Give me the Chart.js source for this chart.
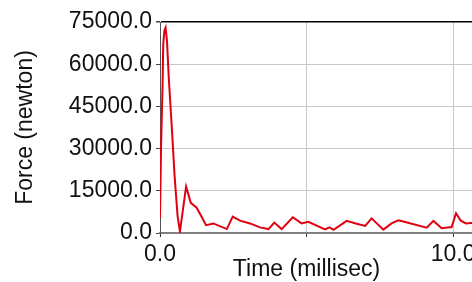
<!DOCTYPE html>
<html>
<head>
<meta charset="utf-8">
<script src="https://cdn.jsdelivr.net/npm/chart.js@4"></script>
<style>
  html, body { margin: 0; padding: 0; background: #fff; overflow: hidden; }
  #wrap { position: absolute; left: 0; top: 0; width: 472px; height: 282px; overflow: hidden; }
</style>
</head>
<body>
<div id="wrap">
  <canvas id="forceChart" width="500" height="282"></canvas>
</div>
<script>
// time (ms) and force (N)
const times = [
  0, 0.035, 0.09, 0.11, 0.15, 0.19, 0.24, 0.3, 0.4, 0.5, 0.6, 0.68,
  0.89, 1.05, 1.25, 1.42, 1.57, 1.82, 2.28, 2.48, 2.73, 3.07, 3.41,
  3.7, 3.9, 4.15, 4.53, 4.83, 5.06, 5.63, 5.78, 5.92, 6.37, 6.71,
  7.0, 7.22, 7.62, 7.9, 8.13, 8.3, 9.1, 9.33, 9.61, 9.95, 10.1,
  10.26, 10.44, 10.7, 11.0,
];
const forces = [
  5300, 30000, 53600, 67000, 72000, 73000, 68000, 55000, 38000, 20000, 6000, 500,
  16500, 10700, 9000, 5800, 2800, 3400, 1400, 5800, 4400, 3400, 2000,
  1400, 3700, 1400, 5600, 3400, 4000, 1300, 2000, 1100, 4300, 3300,
  2500, 5200, 1200, 3400, 4500, 4100, 1900, 4300, 1700, 2100, 7000,
  4400, 3400, 3600, 3500,
];
const xTicks = [0, 5, 10];
const xLabelled = [0, 10];
const yLabelStep = 15000;

const xTitle = "Time (millisec)";
const yTitle = "Force (newton)";

const fontFamily = '"Liberation Sans", Arial, sans-serif';
const labelFont = { family: fontFamily, size: 23 };

// x title sits under the 5.0 grid line, not centred on the axis box
const xTitlePlugin = {
  id: "xTitle",
  afterDraw(chart) {
    const ctx = chart.ctx;
    const x = chart.scales.x;
    ctx.save();
    ctx.font = "23px " + fontFamily;
    ctx.fillStyle = "#111";
    ctx.textAlign = "center";
    ctx.textBaseline = "middle";
    ctx.fillText(xTitle, x.getPixelForValue(5), 270);
    ctx.restore();
  },
};

new Chart(document.getElementById("forceChart"), {
  type: "line",
  data: {
    datasets: [
      {
        data: times.map((t, i) => ({ x: t, y: forces[i] })),
        borderColor: "#e0000f",
        borderWidth: 2,
        pointRadius: 0,
        tension: 0,
        fill: false,
      },
    ],
  },
  options: {
    responsive: false,
    animation: false,
    devicePixelRatio: 1,
    layout: { padding: { top: 22 } },
    plugins: { legend: { display: false }, tooltip: { enabled: false } },
    scales: {
      x: {
        type: "linear",
        min: 0,
        max: 11.6,
        afterBuildTicks: (axis) => {
          axis.ticks = xTicks.map((v) => ({ value: v }));
        },
        afterFit: (scale) => {
          scale.height = 49;
        },
        ticks: {
          font: labelFont,
          color: "#111",
          padding: 4,
          maxRotation: 0,
          callback: (v) => (xLabelled.includes(v) ? Number(v).toFixed(1) : ""),
        },
        grid: { color: "#c8c8c8", tickColor: "#333", tickLength: 4, lineWidth: 1 },
        border: { color: "#808080", width: 2 },
      },
      y: {
        min: 0,
        max: 75000,
        afterFit: (scale) => {
          scale.width = 160;
        },
        ticks: {
          stepSize: 7500,
          font: labelFont,
          color: "#111",
          padding: 4,
          callback: (v) => (v % yLabelStep === 0 ? Number(v).toFixed(1) : ""),
        },
        grid: {
          color: (c) => (c.tick && c.tick.value === 75000 ? "#000" : "#c8c8c8"),
          tickColor: "#444",
          tickLength: 4,
          lineWidth: (c) => (c.tick && c.tick.value === 75000 ? 1.5 : 1),
        },
        border: { color: "#555", width: 1 },
        title: {
          display: true,
          text: yTitle,
          font: labelFont,
          color: "#111",
          padding: { top: 12, bottom: 0 },
        },
      },
    },
  },
  plugins: [xTitlePlugin],
});
</script>
</body>
</html>
